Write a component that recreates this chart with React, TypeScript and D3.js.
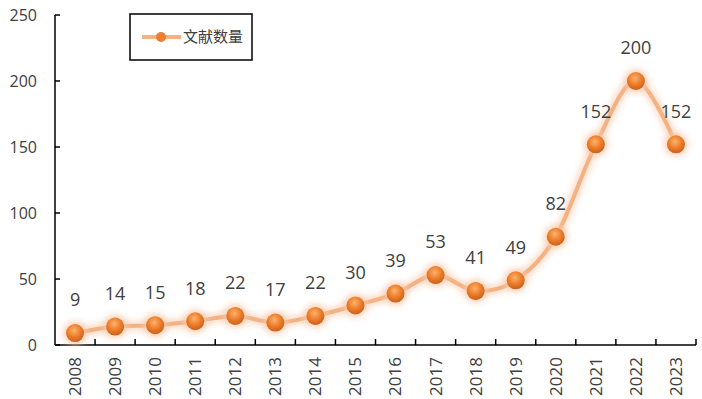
import React from 'react';
import * as d3 from 'd3';

const years = ['2008', '2009', '2010', '2011', '2012', '2013', '2014', '2015', '2016', '2017', '2018', '2019', '2020', '2021', '2022', '2023'];
const counts = [9, 14, 15, 18, 22, 17, 22, 30, 39, 53, 41, 49, 82, 152, 200, 152];
const yTicks = [0, 50, 100, 150, 200, 250];
const seriesName = '文献数量';

const W = 702;
const H = 399;
const FONT = '"Open Sans", "Noto Sans CJK SC", sans-serif';
const TEXT = '#404040';

export default function App() {
  const x = d3.scaleBand<string>().domain(years).range([55, 696]);
  const y = d3.scaleLinear().domain([0, 250]).range([345, 15]);
  const cx = (d: string) => (x(d) ?? 0) + x.bandwidth() / 2;

  const pts: [number, number][] = years.map((yr, i) => [cx(yr), y(counts[i])]);
  const line = d3.line().curve(d3.curveCatmullRom.alpha(0))(pts) ?? '';

  // tick marks sit on the category boundaries
  const bounds = [...years.map(yr => x(yr) ?? 0).slice(1), 696];

  return (
    <svg width={W} height={H} style={{ position: 'absolute', left: 0, top: 0, background: '#fff' }}>
      <defs>
        <filter id="glow" x="-20%" y="-20%" width="140%" height="140%">
          <feGaussianBlur stdDeviation="3" />
        </filter>
        <radialGradient id="ball" cx="45%" cy="35%" r="65%">
          <stop offset="0%" stopColor="#FBB36E" />
          <stop offset="55%" stopColor="#EE7D2A" />
          <stop offset="100%" stopColor="#C9601A" />
        </radialGradient>
      </defs>

      {/* soft glow under the line */}
      <path d={line} fill="none" stroke="#F8CBAD" strokeWidth={9} opacity={0.7} filter="url(#glow)" />
      <path d={line} fill="none" stroke="#F4B183" strokeWidth={4} strokeLinejoin="round" />

      {/* axes */}
      <line x1={55} x2={55} y1={y(250)} y2={y(0)} stroke="#000" strokeWidth={1.5} />
      <line x1={55} x2={696} y1={y(0)} y2={y(0)} stroke="#000" strokeWidth={1.5} />
      {yTicks.map(t => (
        <g key={t}>
          <line x1={55} x2={60} y1={y(t)} y2={y(t)} stroke="#000" strokeWidth={1.5} />
          <text x={37} y={y(t)} dy="0.35em" textAnchor="end" fontFamily={FONT} fontSize={16} fill={TEXT}>{t}</text>
        </g>
      ))}
      {bounds.map((bx, i) => (
        <line key={i} x1={bx} x2={bx} y1={y(0)} y2={y(0) - 6} stroke="#000" strokeWidth={1.5} />
      ))}
      {years.map(yr => (
        <text key={yr} transform={`translate(${cx(yr)},357) rotate(-90)`} dy="0.35em" textAnchor="end"
          fontFamily={FONT} fontSize={17} fill={TEXT}>{yr}</text>
      ))}

      {/* markers and data labels */}
      {pts.map(([px, py], i) => (
        <g key={i}>
          <circle cx={px} cy={py} r={12} fill="#F8CBAD" opacity={0.8} filter="url(#glow)" />
          <circle cx={px} cy={py} r={9} fill="url(#ball)" />
          <text x={px} y={py - 33} dy="0.35em" textAnchor="middle" fontFamily={FONT} fontSize={18} fill={TEXT}>{counts[i]}</text>
        </g>
      ))}

      {/* legend */}
      <rect x={130} y={14} width={122} height={46} fill="#fff" stroke="#000" strokeWidth={1.5} />
      <line x1={142} x2={181} y1={37} y2={37} stroke="#F4B183" strokeWidth={4} />
      <circle cx={161} cy={37} r={5} fill="#ED7D31" />
      <text x={183} y={37} dy="0.35em" fontFamily={FONT} fontSize={15} fill={TEXT}>{seriesName}</text>
    </svg>
  );
}
